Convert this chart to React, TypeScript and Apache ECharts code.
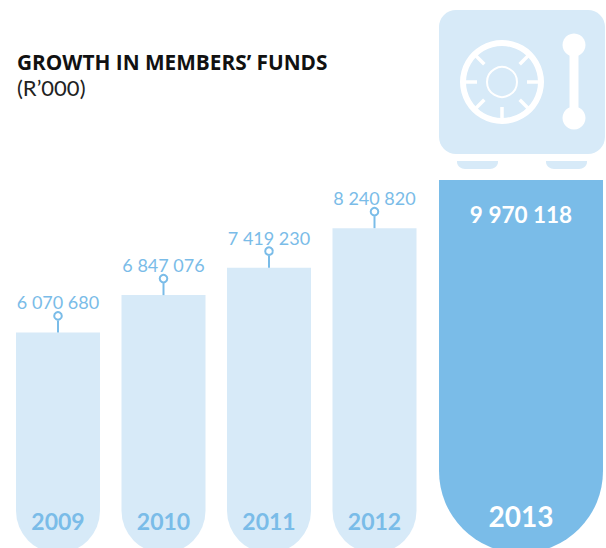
import React, { useEffect, useRef } from "react";
import * as echarts from "echarts";

const years = ["2009", "2010", "2011", "2012"];
const funds = [6070680, 6847076, 7419230, 8240820];
const highlightYear = ["2013"];
const highlightFunds = [9970118];
const titleText = "GROWTH IN MEMBERS’ FUNDS";
const unitText = "(R’000)";

const LIGHT = "#D7EAF8";
const BLUE = "#7ABCE8";
const FONT = "Lato, Carlito, sans-serif";

const fmt = (v: number) => String(v).replace(/\B(?=(\d{3})+$)/g, " ");

const footPath = "M0 0H41V1C41 5 37 8 33 8H8C4 8 0 5 0 1Z";
echarts.graphic.registerShape("safeFoot", (echarts.graphic as any).extendPath(footPath, {}));

function safeIcon() {
  const cx = 502, cy = 82;
  const ticks = [0, 45, 90, 135, 180, 225, 315].map((a) => {
    const r = (a * Math.PI) / 180;
    return {
      type: "line",
      shape: { x1: cx + Math.cos(r) * 37, y1: cy + Math.sin(r) * 37, x2: cx + Math.cos(r) * 25, y2: cy + Math.sin(r) * 25 },
      style: { stroke: "#fff", lineWidth: 3.5 },
    };
  });
  return [
    { type: "rect", shape: { x: 439, y: 10, width: 166, height: 144, r: 17 }, style: { fill: LIGHT } },
    { type: "safeFoot", x: 457, y: 161, style: { fill: LIGHT } },
    { type: "safeFoot", x: 546, y: 161, style: { fill: LIGHT } },
    { type: "ring", shape: { cx, cy, r: 42, r0: 36 }, style: { fill: "#fff" } },
    { type: "circle", shape: { cx, cy, r: 15 }, style: { fill: "none", stroke: "#fff", lineWidth: 2 } },
    ...ticks,
    { type: "line", shape: { x1: 574, y1: 45, x2: 574, y2: 118 }, style: { stroke: "#fff", lineWidth: 9 } },
    { type: "circle", shape: { cx: 574, cy: 45, r: 11.5 }, style: { fill: "#fff" } },
    { type: "circle", shape: { cx: 574, cy: 118, r: 11.5 }, style: { fill: "#fff" } },
  ];
}

export default function App() {
  const ref = useRef<HTMLDivElement>(null);
  useEffect(() => {
    const chart = echarts.init(ref.current!, undefined, { renderer: "svg" });
    chart.setOption({
      animation: false,
      title: [
        { text: titleText, left: 17, top: 51, textStyle: { fontFamily: "'Open Sans', sans-serif", fontSize: 20.8, lineHeight: 22, fontWeight: "bold", color: "#111" }, padding: 0 },
        { text: unitText, left: 17, top: 76, textStyle: { fontFamily: FONT, fontSize: 22, lineHeight: 22, fontWeight: "normal", color: "#222" }, padding: 0 },
      ],
      grid: [
        { left: 5.25, top: 0, width: 422, height: 553 },
        { left: 439, top: 0, width: 164, height: 553 },
      ],
      xAxis: [
        {
          type: "category", gridIndex: 0, data: years, z: 6,
          axisLine: { show: false }, axisTick: { show: false },
          axisLabel: { inside: true, margin: 21, color: BLUE, fontFamily: FONT, fontSize: 23, fontWeight: "bold" },
        },
        {
          type: "category", gridIndex: 1, data: highlightYear, z: 6,
          axisLine: { show: false }, axisTick: { show: false },
          axisLabel: { inside: true, margin: 23, color: "#fff", fontFamily: FONT, fontSize: 28, fontWeight: "bold" },
        },
      ],
      yAxis: [
        { type: "value", gridIndex: 0, min: 1479000, max: 12990000, show: false, splitLine: { show: false } },
        { type: "value", gridIndex: 1, min: 0, max: 14781000, show: false, splitLine: { show: false } },
      ],
      series: [
        {
          type: "bar", xAxisIndex: 0, yAxisIndex: 0, data: funds, barWidth: 84,
          itemStyle: { color: LIGHT, borderRadius: [0, 0, 42, 42] },
        },
        {
          type: "custom", xAxisIndex: 0, yAxisIndex: 0, data: funds.map((v, i) => [i, v]),
          z: 3,
          renderItem: (_p: any, api: any) => {
            const v = api.value(1);
            const [x, y] = api.coord([api.value(0), v]);
            return {
              type: "group",
              children: [
                { type: "line", shape: { x1: x, y1: y, x2: x, y2: y - 12 }, style: { stroke: BLUE, lineWidth: 2 } },
                { type: "circle", shape: { cx: x, cy: y - 16.5, r: 3.8 }, style: { fill: "#fff", stroke: BLUE, lineWidth: 2 } },
                {
                  type: "text",
                  style: { text: fmt(v), x, y: y - 30, fill: BLUE, align: "center", verticalAlign: "middle", fontFamily: FONT, fontSize: 18 },
                },
              ],
            };
          },
        },
        {
          type: "bar", xAxisIndex: 1, yAxisIndex: 1, data: highlightFunds, barWidth: "100%",
          itemStyle: { color: BLUE, borderRadius: [0, 0, 82, 82] },
          label: {
            show: true, position: "insideTop", distance: 23, color: "#fff",
            fontFamily: FONT, fontSize: 22.5, fontWeight: "bold", formatter: (p: any) => fmt(p.value),
          },
        },
      ],
      graphic: safeIcon(),
    });
    return () => chart.dispose();
  }, []);
  return (
    <div style={{ position: "absolute", left: 0, top: 0, width: 606, height: 548, overflow: "hidden", background: "#fff" }}>
      <div ref={ref} style={{ width: 606, height: 560 }} />
    </div>
  );
}
